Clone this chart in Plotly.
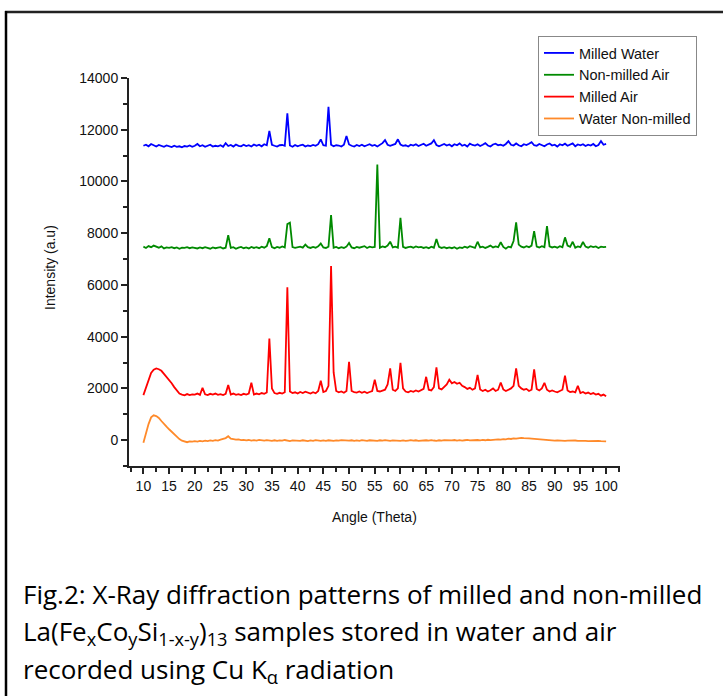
import numpy as np
import plotly.graph_objects as go

# Angle grid (2-theta, degrees), 0.5 degree steps from 10 to 100
angle = [10 + 0.5 * i for i in range(181)]

milled_water = [
    11380, 11420, 11360, 11450, 11400, 11350, 11410, 11370, 11340, 11390,
    11360, 11330, 11380, 11340, 11360, 11320, 11370, 11350, 11390, 11340,
    11380, 11450, 11360, 11400, 11340, 11390, 11420, 11350, 11380, 11360,
    11400, 11340, 11480, 11370, 11410, 11350, 11430, 11380, 11360, 11420,
    11370, 11400, 11350, 11430, 11380, 11420, 11360, 11440, 11400, 11950,
    11420, 11380, 11350, 11400, 11410, 11380, 12630, 11390, 11340, 11410,
    11360, 11400, 11420, 11350, 11390, 11370, 11410, 11380, 11440, 11630,
    11400, 11380, 12890, 11420, 11360, 11400, 11390, 11350, 11420, 11755,
    11430, 11380, 11350, 11410, 11370, 11420, 11360, 11400, 11440, 11380,
    11410, 11350, 11420, 11480, 11600, 11420, 11380, 11410, 11450, 11630,
    11430, 11380, 11400, 11350, 11420, 11390, 11440, 11370, 11410, 11460,
    11380, 11420, 11470, 11600, 11410, 11360, 11420, 11450, 11390, 11430,
    11360, 11440, 11400, 11470, 11380, 11420, 11350, 11460, 11410, 11390,
    11440, 11370, 11420, 11480, 11390, 11350, 11430, 11460, 11400, 11420,
    11380, 11450, 11560, 11420, 11390, 11470, 11400, 11360, 11440, 11410,
    11460, 11520, 11400, 11380, 11450, 11420, 11360, 11430, 11470, 11390,
    11420, 11350, 11440, 11400, 11460, 11380, 11410, 11470, 11360, 11430,
    11400, 11440, 11370, 11420, 11390, 11450, 11360, 11410, 11560, 11420,
    11450,
]

non_milled_air = [
    7480, 7430, 7500, 7460, 7520, 7470, 7440, 7490, 7410, 7450,
    7430, 7460, 7420, 7450, 7400, 7440, 7430, 7460, 7420, 7450,
    7430, 7410, 7450, 7420, 7460, 7430, 7400, 7450, 7420, 7440,
    7460, 7410, 7440, 7927, 7430, 7460, 7400, 7440, 7470, 7420,
    7450, 7410, 7470, 7430, 7460, 7420, 7480, 7440, 7500, 7800,
    7460, 7420, 7470, 7440, 7490, 7450, 8350, 8404, 7460, 7430,
    7450, 7480, 7440, 7560, 7460, 7430, 7470, 7440, 7490, 7600,
    7450, 7430, 7480, 8700, 7440, 7470, 7420, 7460, 7430, 7480,
    7620, 7450, 7420, 7470, 7440, 7460, 7500, 7430, 7480, 7450,
    7470, 10650, 7440, 7490, 7460, 7520, 7670, 7450, 7480, 7440,
    8597, 7470, 7430, 7460, 7480, 7440, 7490, 7450, 7470, 7430,
    7460, 7420, 7480, 7440, 7772, 7470, 7430, 7460, 7420, 7450,
    7420, 7460, 7400, 7450, 7430, 7480, 7440, 7500, 7460, 7430,
    7670, 7450, 7480, 7430, 7470, 7520, 7450, 7490, 7460, 7650,
    7470, 7400, 7480, 7450, 7700, 8418, 7560, 7480, 7450, 7500,
    7460, 7520, 8082, 7480, 7450, 7500, 7460, 8275, 7490, 7450,
    7480, 7440, 7500, 7460, 7838, 7520, 7470, 7670, 7440, 7490,
    7460, 7660, 7480, 7440, 7500, 7460, 7490, 7430, 7480, 7460,
    7470,
]

milled_air = [
    1740, 2050, 2350, 2600, 2720, 2770, 2740, 2680, 2560, 2450,
    2300, 2200, 2050, 1900, 1800, 1760, 1730, 1780, 1740, 1770,
    1760, 1800, 1750, 2023, 1770, 1740, 1790, 1760, 1800, 1750,
    1780, 1740, 1790, 2127, 1760, 1800, 1750, 1780, 1740, 1790,
    1760, 1800, 2217, 1760, 1800, 1770, 1820, 1790, 1840, 3932,
    2000, 1820, 1790, 1830, 1800, 1850, 5905, 1880, 1820, 1850,
    1800, 1860, 1820, 1870, 1830, 1800, 1850, 1810, 1900, 2293,
    1860, 1900, 2100, 6729, 2618, 1900, 1850, 1880, 1830, 1900,
    3028, 1900, 1860, 1840, 1880, 1830, 1870, 1820, 1860, 1900,
    2340, 1900, 1880, 1920, 1950, 2150, 2773, 1950, 1900, 2000,
    2990, 2000, 1880, 1850, 1900, 1870, 1920, 1880, 1940, 1980,
    2448, 1950, 1920, 2050, 2811, 2000, 1960, 2050, 2150, 2340,
    2200, 2250, 2180, 2220, 2100, 2050, 1980, 2020, 1950, 2000,
    2520, 1960, 1900, 1950, 1880, 1930, 2000, 1900, 1950, 2230,
    1960, 1900, 1950, 2000, 2100, 2773, 2100, 2000, 1950, 1980,
    1900, 1950, 2733, 1980, 1920, 2000, 2217, 1950, 1880, 1920,
    1880, 1850, 1900, 1950, 2490, 1920, 1860, 1880, 1850, 2100,
    1820, 1860, 1800, 1840, 1780, 1820, 1760, 1790, 1720, 1760,
    1700,
]

water_non_milled = [
    -100, 300, 620, 880, 960, 930, 860, 740, 610, 520,
    420, 320, 230, 150, 40, -20, -60, -80, -50, -60,
    -40, -55, -30, -45, -20, -35, -10, -25, 0, -15,
    20, 40, 80, 150, 60, 40, 20, 30, 0, 10,
    -10, 5, -20, 0, -15, 10, -5, -20, 0, -10,
    -25, -5, -30, -10, -20, 5, -15, -35, -10, -25,
    -15, -30, -5, -20, -35, -10, -25, 0, -20, -30,
    -10, -25, -5, -15, -30, -10, -20, 0, -15, -25,
    -20, -5, -30, -10, -25, 0, -15, -30, -5, -20,
    -10, -25, -5, -20, 0, -15, -30, -10, -20, -5,
    -25, -10, -30, -15, 0, -20, -5, -25, -10, -20,
    -5, -20, 0, -15, -25, -5, -20, 0, -10, -25,
    -10, 5, -15, 0, -20, -5, 10, -10, 0, -15,
    5, -10, 10, -5, 15, 0, 20, 10, 30, 20,
    40, 30, 55, 45, 70, 60, 80, 90, 75, 85,
    70, 60, 50, 40, 30, 20, 10, 0, -10, -5,
    -20, -10, -25, -15, -30, -20, -10, -25, -15, -30,
    -20, -35, -25, -40, -30, -20, -35, -25, -40, -30,
    -45,
]

series_names = ["Milled Water", "Non-milled Air", "Milled Air", "Water Non-milled"]
series_values = [milled_water, non_milled_air, milled_air, water_non_milled]
series_colors = ["#0000FF", "#008A00", "#FF0000", "#FF8A2A"]

x_ticks = list(range(10, 101, 5))
x_tick_labels = [str(v) for v in x_ticks]
y_ticks = list(range(0, 14001, 2000))
y_tick_labels = [str(v) for v in y_ticks]

# plot-area pixel geometry
L, R, T, B = 129, 620, 78, 466
W, H = 723, 696

def px(xp):
    return (xp - L) / (R - L)

def py(yp):
    return (B - yp) / (B - T)

fig = go.Figure()
for name, vals, col in zip(series_names, series_values, series_colors):
    fig.add_trace(go.Scatter(x=angle, y=vals, mode="lines", name=name,
                             line=dict(color=col, width=1.8)))

SANS = "Liberation Sans, Arial, sans-serif"
axis_font = dict(family=SANS, size=14, color="#111")

fig.update_layout(
    width=W, height=H,
    margin=dict(l=L, r=W - R, t=T, b=H - B, pad=0),
    paper_bgcolor="white", plot_bgcolor="white",
    showlegend=True,
    legend=dict(x=px(697), y=py(36), xanchor="right", yanchor="top",
                bgcolor="white", bordercolor="#888", borderwidth=1,
                font=dict(family=SANS, size=14.5, color="#111"),
                tracegroupgap=0, itemwidth=30),
    xaxis=dict(range=[7.2, 102.7], tickvals=x_ticks, ticktext=x_tick_labels,
               ticks="outside", ticklen=6,
               tickwidth=1.5, tickcolor="#222", showline=True, linecolor="#222",
               linewidth=2, showgrid=False, zeroline=False, tickfont=axis_font,
               minor=dict(dtick=2.5, tick0=7.5, ticks="outside", ticklen=4,
                          tickwidth=1.5, tickcolor="#222", showgrid=False)),
    yaxis=dict(range=[-1000, 14000], tickvals=y_ticks, ticktext=y_tick_labels,
               ticks="outside", ticklen=6,
               tickwidth=1.5, tickcolor="#222", showline=True, linecolor="#222",
               linewidth=2, showgrid=False, zeroline=False, tickfont=axis_font,
               minor=dict(dtick=1000, tick0=0, ticks="outside", ticklen=4,
                          tickwidth=1.5, tickcolor="#222", showgrid=False)),
)

# axis titles
fig.add_annotation(x=px(50), y=py(268), xref="paper", yref="paper",
                   xanchor="center", yanchor="middle",
                   text="Intensity (a.u)", textangle=-90, showarrow=False,
                   font=axis_font)
fig.add_annotation(x=px(374), y=py(517), xref="paper", yref="paper",
                   xanchor="center", yanchor="middle",
                   text="Angle (Theta)", showarrow=False, font=axis_font)

# caption
cap_font = dict(family="Open Sans, Noto Sans, sans-serif", size=26, color="#000")
captions = [
    "Fig.2: X-Ray diffraction patterns of milled and non-milled",
    "La(Fe<sub>x</sub>Co<sub>y</sub>Si<sub>1-x-y</sub>)<sub>13</sub> samples stored in water and air",
    "recorded using Cu K<sub>α</sub> radiation",
]
for txt, yc in zip(captions, [594, 632, 670]):
    fig.add_annotation(x=px(21), y=py(yc), xref="paper", yref="paper",
                       text=txt, showarrow=False, xanchor="left", yanchor="middle",
                       font=cap_font, align="left")

# outer frame lines (top and left)
fig.add_shape(type="line", xref="paper", yref="paper",
              x0=px(5), x1=px(723), y0=py(12), y1=py(12),
              line=dict(color="#222", width=2.5))
fig.add_shape(type="line", xref="paper", yref="paper",
              x0=px(6), x1=px(6), y0=py(11), y1=py(696),
              line=dict(color="#000", width=2.5))

fig.write_html("out.html", config={"displayModeBar": False},
               post_script="document.body.style.margin='0';document.body.style.overflow='hidden';")
